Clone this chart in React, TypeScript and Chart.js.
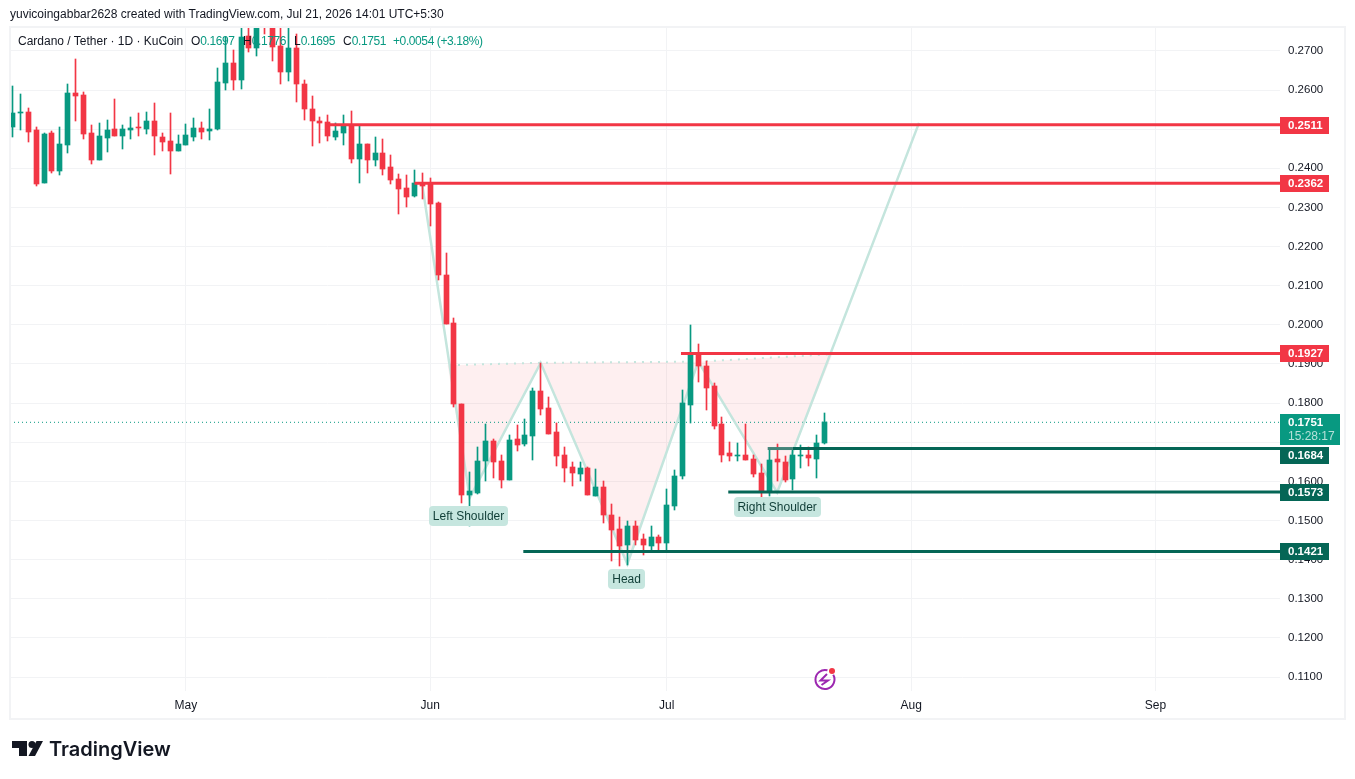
import React, { useEffect, useRef } from "react";
import { Chart, registerables } from "chart.js";

Chart.register(...registerables);

// Day index 0 = Apr 9. One row per field: open, high, low, close.
const opens = [.2506,.2542,.2544,.2498,.2363,.2490,.2393,.2460,.2593,.2588,.2490,.2421,.2478,.2501,.2483,.2498,.2506,.2501,.2521,.2480,.2470,.2444,.2460,.2480,.2503,.2496,.2501,.2618,.2669,.2626,.2738,.2708,.2805,.2779,.2713,.2646,.2708,.2616,.2552,.2521,.2519,.2480,.2490,.2508,.2424,.2462,.2421,.2439,.2404,.2373,.2350,.2329,.2363,.2363,.2311,.2128,.2005,.1798,.1565,.1570,.1652,.1703,.1652,.1604,.1708,.1696,.1716,.1831,.1788,.1726,.1668,.1637,.1619,.1634,.1563,.1586,.1514,.1479,.1437,.1486,.1453,.1435,.1458,.1443,.1537,.1614,.1795,.1923,.1895,.1844,.1747,.1673,.1665,.1668,.1657,.1622,.1573,.1657,.1650,.1606,.1665,.1668,.1657,.1697];
const highs = [.2611,.2590,.2554,.2506,.2490,.2496,.2506,.2616,.2680,.2595,.2511,.2516,.2524,.2577,.2511,.2531,.2542,.2544,.2567,.2490,.2542,.2485,.2513,.2529,.2519,.2552,.2656,.2736,.2703,.2792,.2774,.2817,.2830,.2800,.2779,.2766,.2743,.2626,.2585,.2531,.2536,.2516,.2536,.2547,.2508,.2462,.2480,.2475,.2434,.2386,.2383,.2395,.2388,.2375,.2314,.2184,.2018,.1798,.1624,.1688,.1747,.1708,.1668,.1719,.1744,.1760,.1839,.1903,.1816,.1749,.1688,.1650,.1650,.1637,.1632,.1601,.1542,.1509,.1499,.1499,.1466,.1486,.1463,.1581,.1629,.1834,.2000,.1951,.1908,.1852,.1765,.1701,.1698,.1747,.1668,.1645,.1686,.1696,.1665,.1680,.1693,.1688,.1719,.1776];
const lows = [.2480,.2498,.2467,.2355,.2363,.2388,.2383,.2439,.2521,.2475,.2411,.2421,.2442,.2483,.2450,.2475,.2483,.2488,.2434,.2444,.2386,.2444,.2460,.2470,.2475,.2473,.2498,.2600,.2600,.2603,.2697,.2687,.2743,.2674,.2616,.2623,.2570,.2524,.2457,.2465,.2470,.2473,.2460,.2414,.2363,.2388,.2406,.2383,.2360,.2283,.2301,.2327,.2322,.2253,.2115,.2002,.1790,.1545,.1486,.1568,.1601,.1609,.1583,.1604,.1678,.1691,.1655,.1770,.1721,.1639,.1599,.1588,.1601,.1565,.1563,.1494,.1397,.1384,.1386,.1437,.1412,.1420,.1422,.1420,.1527,.1606,.1749,.1854,.1783,.1734,.1650,.1652,.1652,.1655,.1611,.1555,.1563,.1601,.1599,.1578,.1634,.1639,.1609,.1695];
const closes = [.2542,.2544,.2493,.2360,.2488,.2393,.2462,.2593,.2585,.2488,.2421,.2483,.2498,.2483,.2501,.2503,.2503,.2521,.2483,.2467,.2444,.2462,.2485,.2503,.2493,.2501,.2621,.2669,.2626,.2736,.2708,.2800,.2766,.2710,.2646,.2708,.2616,.2552,.2521,.2516,.2483,.2496,.2508,.2424,.2462,.2421,.2439,.2399,.2370,.2347,.2327,.2363,.2355,.2309,.2128,.2002,.1798,.1565,.1575,.1652,.1703,.1650,.1604,.1706,.1693,.1719,.1831,.1785,.1721,.1665,.1634,.1622,.1634,.1565,.1586,.1514,.1476,.1435,.1486,.1450,.1437,.1458,.1443,.1540,.1614,.1801,.1923,.1895,.1839,.1742,.1668,.1665,.1668,.1655,.1619,.1573,.1655,.1650,.1604,.1668,.1668,.1660,.1698,.1751];

const monthLabels = ["May", "Jun", "Jul", "Aug", "Sep"];
const monthDays = [22, 53, 83, 114, 145];
const priceTicks = [0.11, 0.12, 0.13, 0.14, 0.15, 0.16, 0.17, 0.18, 0.19, 0.2, 0.21, 0.22, 0.23, 0.24, 0.25, 0.26, 0.27];

const levelValues = [0.2511, 0.2362, 0.1927, 0.1684, 0.1573, 0.1421];
const levelStarts = [40, 51, 84.8, 95.8, 90.8, 64.8];
const levelFadeEnds = [null, null, null, 99, null, null];
const levelColors = ["#f23645", "#f23645", "#f23645", "#056656", "#056656", "#056656"];
const levelLabelShifts = [0, 0, 0, 6, 0, 0];

const patternDays = [52, 58, 67, 78, 87, 97, 115];
const patternPrices = [0.2355, 0.1558, 0.1903, 0.1389, 0.1906, 0.1572, 0.2516];
const necklineDays = [55.5, 67, 87, 104];
const necklinePrices = [0.1897, 0.1903, 0.1906, 0.1925];
const pinkAreas = [
  { days: [55.2, 67, 58], prices: [0.1897, 0.1903, 0.1558] },
  { days: [67, 87, 78], prices: [0.1903, 0.1906, 0.1389] },
  { days: [87, 104, 97], prices: [0.1906, 0.1925, 0.1572] },
];
const notes = [
  { text: "Left Shoulder", day: 57.85, price: 0.1512 },
  { text: "Head", day: 77.9, price: 0.1351 },
  { text: "Right Shoulder", day: 97, price: 0.1535 },
];
const lastPrice = 0.1751;
const countdown = "15:28:17";
const XMIN = -0.317;
const XMAX = 160.79;
const YMIN = 0.10645;
const YMAX = 0.2761;
const GREEN = "#089981";
const RED = "#f23645";
const LINE = "#f2f3f5";
const FONT = '"Liberation Sans", Roboto, sans-serif';

const isUp = (i: number) => closes[i] >= opens[i];
const colors = closes.map((_, i) => (isUp(i) ? GREEN : RED));

const overlay = {
  id: "overlay",
  afterDatasetsUpdate(chart: any) {
    // snap candle rectangles to whole pixels, the way the reference renders them
    chart.data.datasets.forEach((ds: any, i: number) => {
      if (ds.type !== "bar") return;
      chart.getDatasetMeta(i).data.forEach((el: any) => {
        el.x = Math.floor(el.x) + 0.5;
        const top = Math.round(Math.min(el.y, el.base));
        let bottom = Math.round(Math.max(el.y, el.base));
        if (bottom === top) bottom = top + 1;
        el.y = top;
        el.base = bottom;
      });
    });
  },
  beforeDatasetsDraw(chart: any) {
    const { ctx, scales } = chart;
    const x = scales.x;
    const y = scales.y;
    ctx.save();
    ctx.beginPath();
    ctx.rect(chart.chartArea.left, chart.chartArea.top, chart.chartArea.width, chart.chartArea.height);
    ctx.clip();
    ctx.fillStyle = "rgba(242,54,69,0.08)";
    pinkAreas.forEach((a) => {
      ctx.beginPath();
      a.days.forEach((d, i) => {
        const px = x.getPixelForValue(d);
        const py = y.getPixelForValue(a.prices[i]);
        if (i === 0) ctx.moveTo(px, py);
        else ctx.lineTo(px, py);
      });
      ctx.closePath();
      ctx.fill();
    });
    ctx.restore();
  },
  afterDraw(chart: any) {
    const { ctx, scales } = chart;
    const x = scales.x;
    const y = scales.y;
    ctx.save();
    // outer frame
    ctx.strokeStyle = LINE;
    ctx.lineWidth = 2;
    ctx.strokeRect(10, 27, 1335, 692);
    // notes
    ctx.font = `12px ${FONT}`;
    ctx.textBaseline = "middle";
    ctx.textAlign = "center";
    notes.forEach((n) => {
      const cx = x.getPixelForValue(n.day);
      const cy = Math.round(y.getPixelForValue(n.price));
      const w = Math.round(ctx.measureText(n.text).width + 8);
      ctx.fillStyle = "#c6e6df";
      ctx.beginPath();
      ctx.roundRect(Math.round(cx - w / 2), cy - 10, w, 20, 4);
      ctx.fill();
      ctx.fillStyle = "#0f3d36";
      ctx.fillText(n.text, cx, cy + 0.5);
    });
    // last price label
    ctx.textAlign = "left";
    const ax = chart.chartArea.right;
    const ly = Math.round(y.getPixelForValue(lastPrice));
    ctx.fillStyle = GREEN;
    ctx.fillRect(ax, ly - 8, 60, 31);
    ctx.fillStyle = "#ffffff";
    ctx.font = `bold 11.5px ${FONT}`;
    ctx.fillText(lastPrice.toFixed(4), ax + 8, ly + 1);
    ctx.fillStyle = "rgba(255,255,255,0.7)";
    ctx.font = `12px ${FONT}`;
    ctx.fillText(countdown, ax + 8, ly + 15);
    // level labels
    levelValues.forEach((v, i) => {
      const py = Math.round(y.getPixelForValue(v)) + levelLabelShifts[i];
      ctx.fillStyle = levelColors[i];
      ctx.fillRect(ax, py - 8, 49, 17);
      ctx.fillStyle = "#ffffff";
      ctx.font = `bold 11.5px ${FONT}`;
      ctx.fillText(v.toFixed(4), ax + 8, py + 1);
    });
    ctx.restore();
  },
};

export default function App() {
  const ref = useRef<HTMLCanvasElement>(null);
  useEffect(() => {
    const wick = closes.map((_, i) => ({ x: i, y: [lows[i], highs[i]] }));
    const body = closes.map((_, i) => ({ x: i, y: [opens[i], closes[i]] }));
    const xAll = [XMIN, XMAX];
    const levelSets = levelValues.map((v, i) => {
      const fade = levelFadeEnds[i];
      const xs = fade === null ? [levelStarts[i], XMAX] : [levelStarts[i], fade, XMAX];
      return {
        type: "line",
        label: `level ${v}`,
        data: xs.map((d) => ({ x: d, y: v })),
        borderColor: levelColors[i],
        borderWidth: 3,
        pointRadius: 0,
        segment: {
          borderColor: (c: any) => (fade !== null && c.p0DataIndex === 0 ? "#44847a" : undefined),
        },
        order: 1,
      };
    });
    const chart = new Chart(ref.current as HTMLCanvasElement, {
      type: "bar",
      data: {
        datasets: [
          ...levelSets,
          {
            type: "bar",
            label: "body",
            data: body,
            backgroundColor: colors,
            barThickness: 5,
            minBarLength: 1,
            grouped: false,
            order: 2,
          },
          {
            type: "bar",
            label: "wick",
            data: wick,
            backgroundColor: colors,
            barThickness: 1,
            grouped: false,
            order: 3,
          },
          {
            type: "line",
            label: "pattern",
            data: patternDays.map((d, i) => ({ x: d, y: patternPrices[i] })),
            borderColor: "#c4e5dd",
            borderWidth: 2.5,
            pointRadius: 0,
            order: 4,
          },
          {
            type: "line",
            label: "neckline",
            data: necklineDays.map((d, i) => ({ x: d, y: necklinePrices[i] })),
            borderColor: "#c4e5dd",
            borderWidth: 2,
            borderDash: [2, 6],
            pointRadius: 0,
            order: 5,
          },
          {
            type: "line",
            label: "last",
            data: xAll.map((d) => ({ x: d, y: lastPrice })),
            borderColor: GREEN,
            borderWidth: 1,
            borderDash: [1, 3],
            pointRadius: 0,
            order: 6,
          },
        ],
      } as any,
      options: {
        animation: false,
        responsive: false,
        devicePixelRatio: 1,
        events: [],
        layout: { padding: { left: 10, top: 27, right: 10, bottom: 60 } },
        plugins: { legend: { display: false }, tooltip: { enabled: false } },
        scales: {
          x: {
            type: "linear",
            offset: false,
            min: XMIN,
            max: XMAX,
            grid: { color: LINE, offset: false, drawTicks: false },
            border: { display: false },
            afterBuildTicks(s: any) {
              s.ticks = monthDays.map((value) => ({ value }));
            },
            afterFit(s: any) {
              s.height = 28;
            },
            ticks: {
              autoSkip: false,
              maxRotation: 0,
              padding: 7,
              color: "#131722",
              font: { family: FONT, size: 12 },
              callback: (v: any) => monthLabels[monthDays.indexOf(v)] ?? "",
            },
          },
          y: {
            type: "linear",
            position: "right",
            min: YMIN,
            max: YMAX,
            grid: { color: LINE, drawTicks: false },
            border: { display: false },
            afterBuildTicks(s: any) {
              s.ticks = priceTicks.map((value) => ({ value }));
            },
            afterFit(s: any) {
              s.width = 65;
            },
            ticks: {
              padding: 8,
              color: "#131722",
              font: { family: FONT, size: 11.5 },
              callback: (v: any) => Number(v).toFixed(4),
            },
          },
        },
      } as any,
      plugins: [overlay],
    });
    return () => chart.destroy();
  }, []);

  const legendValue: React.CSSProperties = { color: GREEN, letterSpacing: "-0.4px" };
  return (
    <div style={{ position: "absolute", left: 0, top: 0, width: 1355, height: 779, background: "#fff", overflow: "hidden", fontFamily: FONT, color: "#131722" }}>
      <canvas ref={ref} width={1355} height={779} style={{ position: "absolute", left: 0, top: 0, width: 1355, height: 779 }} />
      <div style={{ position: "absolute", left: 10, top: 7, fontSize: 12, whiteSpace: "nowrap" }}>
        yuvicoingabbar2628 created with TradingView.com, Jul 21, 2026 14:01 UTC+5:30
      </div>
      <div style={{ position: "absolute", left: 18, top: 34, fontSize: 12, whiteSpace: "nowrap" }}>Cardano / Tether · 1D · KuCoin</div>
      <div style={{ position: "absolute", left: 191, top: 34, fontSize: 12, whiteSpace: "nowrap" }}>
        O<span style={legendValue}>0.1697</span>
      </div>
      <div style={{ position: "absolute", left: 243, top: 34, fontSize: 12, whiteSpace: "nowrap" }}>
        H<span style={legendValue}>0.1776</span>
      </div>
      <div style={{ position: "absolute", left: 294, top: 34, fontSize: 12, whiteSpace: "nowrap" }}>
        L<span style={legendValue}>0.1695</span>
      </div>
      <div style={{ position: "absolute", left: 343, top: 34, fontSize: 12, whiteSpace: "nowrap" }}>
        C<span style={legendValue}>0.1751</span>
      </div>
      <div style={{ position: "absolute", left: 393, top: 34, fontSize: 12, whiteSpace: "nowrap", color: GREEN, letterSpacing: "-0.4px" }}>+0.0054 (+3.18%)</div>
      <svg style={{ position: "absolute", left: 0, top: 0 }} width={60} height={779}>
        <path d="M12 741H27V756H19V748H12Z" fill="#131722" />
        <circle cx="32" cy="744.5" r="3.5" fill="#131722" />
        <path d="M36.5 741H43L35 756H28.5Z" fill="#131722" />
      </svg>
      <div style={{ position: "absolute", left: 49, top: 737, fontSize: 20, fontWeight: 600, fontFamily: 'Inter, "Liberation Sans", sans-serif', whiteSpace: "nowrap", color: "#131722" }}>TradingView</div>
      <svg style={{ position: "absolute", left: 812, top: 667 }} width={26} height={24}>
        <path d="M21.2 7.75A9.5 9.5 0 1 1 15.46 3.32" fill="none" stroke="#9c27b0" strokeWidth="2" />
        <path d="M15 7L8.5 13.5H16L9.5 18" fill="none" stroke="#9c27b0" strokeWidth="2" />
        <circle cx="20" cy="4" r="3" fill="#f23645" />
      </svg>
    </div>
  );
}
